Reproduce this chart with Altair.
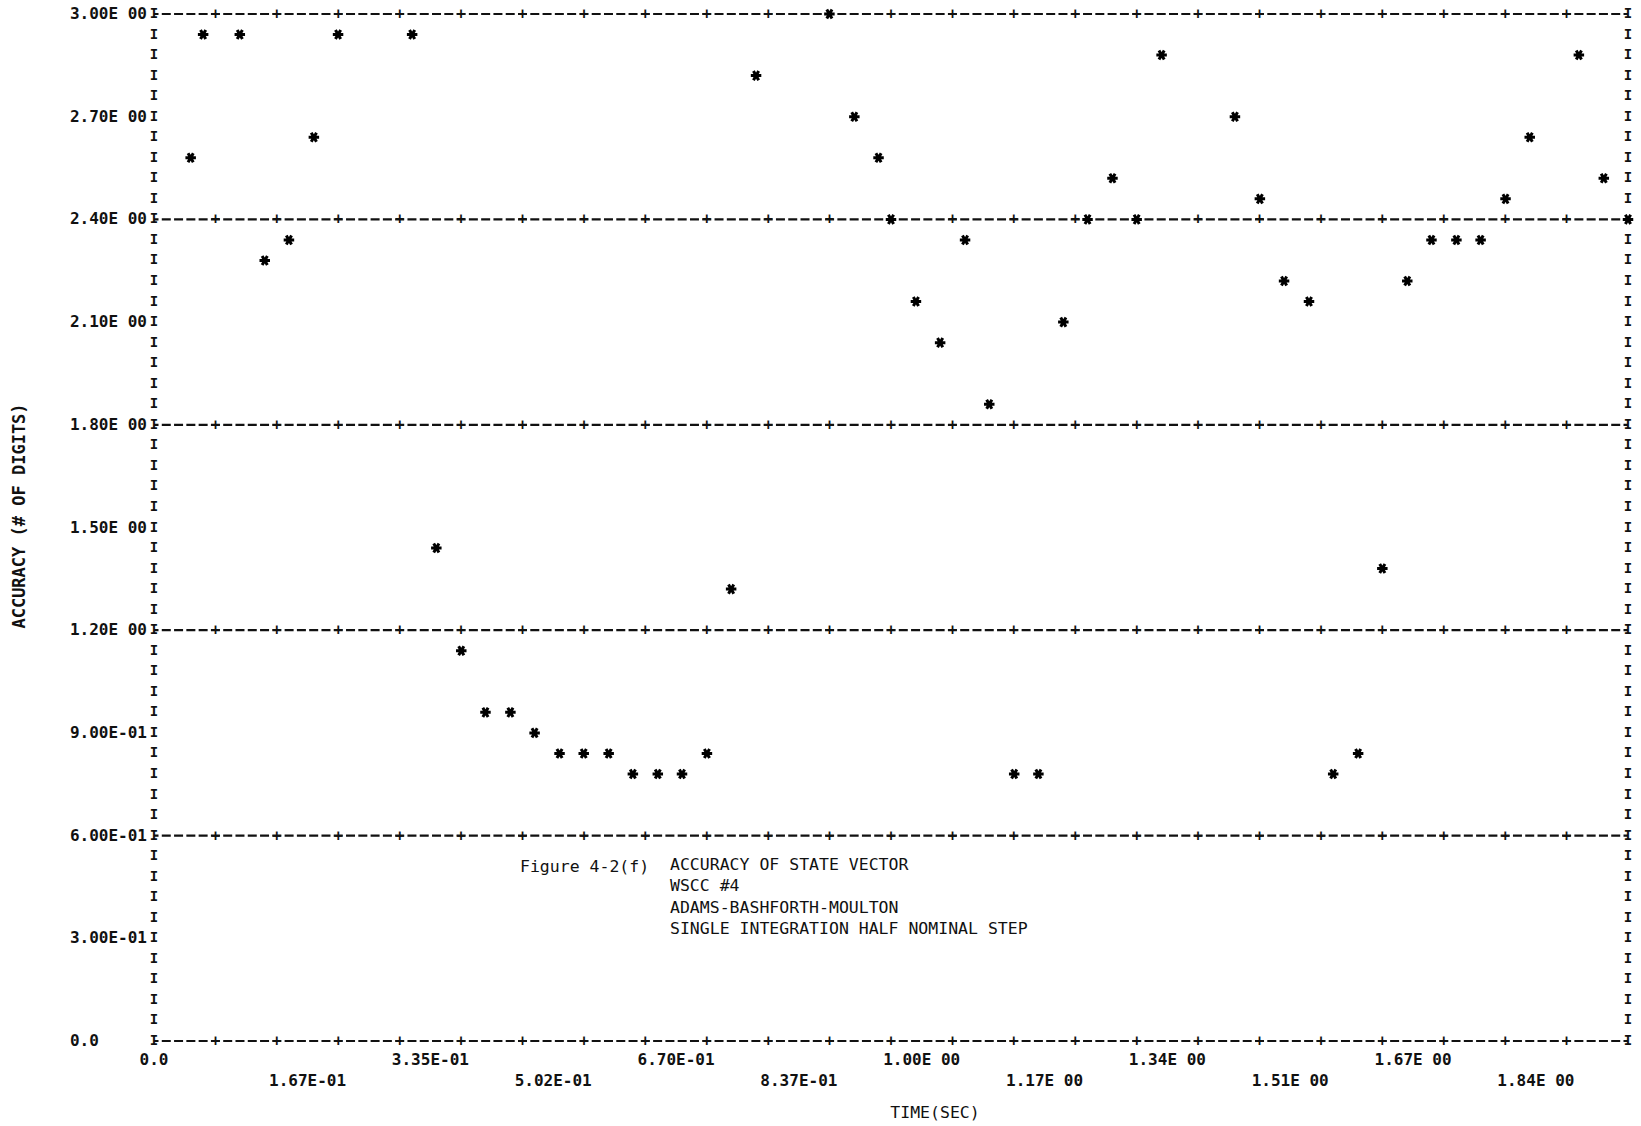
import altair as alt
import pandas as pd

# ---------------- data ----------------
times = [0.050, 0.067, 0.117, 0.151, 0.184, 0.218, 0.251, 0.352, 0.385, 0.419,
         0.452, 0.486, 0.519, 0.553, 0.586, 0.620, 0.653, 0.687, 0.720, 0.754,
         0.787, 0.821, 0.921, 0.955, 0.988, 1.005, 1.039, 1.072, 1.106, 1.139,
         1.173, 1.206, 1.240, 1.273, 1.307, 1.340, 1.374, 1.474, 1.508, 1.541,
         1.575, 1.608, 1.642, 1.675, 1.709, 1.742, 1.776, 1.809, 1.843, 1.876,
         1.943, 1.977, 2.010]
accuracy = [2.58, 2.94, 2.94, 2.28, 2.34, 2.64, 2.94, 2.94, 1.44, 1.14,
            0.96, 0.96, 0.90, 0.84, 0.84, 0.84, 0.78, 0.78, 0.78, 0.84,
            1.32, 2.82, 3.00, 2.70, 2.58, 2.40, 2.16, 2.04, 2.34, 1.86,
            0.78, 0.78, 2.10, 2.40, 2.52, 2.40, 2.88, 2.70, 2.46, 2.22,
            2.16, 0.78, 0.84, 1.38, 2.22, 2.34, 2.34, 2.34, 2.46, 2.64,
            2.88, 2.52, 2.40]

grid_levels = [0.0, 0.6, 1.2, 1.8, 2.4, 3.0]
ytick_values = [3.0, 2.7, 2.4, 2.1, 1.8, 1.5, 1.2, 0.9, 0.6, 0.3, 0.0]
ytick_labels = ["3.00E 00", "2.70E 00", "2.40E 00", "2.10E 00", "1.80E 00",
                "1.50E 00", "1.20E 00", "9.00E-01", "6.00E-01", "3.00E-01", "0.0"]
xtick_values = [0.0, 0.1675, 0.335, 0.5025, 0.67, 0.8375, 1.005, 1.1725,
                1.34, 1.5075, 1.675, 1.8425]
xtick_labels = ["0.0", "1.67E-01", "3.35E-01", "5.02E-01", "6.70E-01", "8.37E-01",
                "1.00E 00", "1.17E 00", "1.34E 00", "1.51E 00", "1.67E 00", "1.84E 00"]
caption_head = "Figure 4-2(f)"
caption_lines = ["ACCURACY OF STATE VECTOR", "WSCC #4", "ADAMS-BASHFORTH-MOULTON",
                 "SINGLE INTEGRATION HALF NOMINAL STEP"]
x_title = "TIME(SEC)"
y_title = "ACCURACY (# OF DIGITS)"

# ---------------- printer grid geometry ----------------
X_MAX = 2.01
N_COLS = 120
N_ROWS = 50
COL = X_MAX / N_COLS
ROW = 3.0 / N_ROWS
W, H = 1474, 1027
COLPX = W / N_COLS
MONO = "DejaVu Sans Mono"
INK = "#111111"
LBL_SIZE = 16
LBL_CHAR = 0.602 * LBL_SIZE

occupied = {(round(t / COL), round(a / ROW)) for t, a in zip(times, accuracy)}

xs = alt.Scale(domain=[0, X_MAX], nice=False, zero=False)
ys = alt.Scale(domain=[0, 3.0], nice=False, zero=False)

pts = pd.DataFrame({"t": times, "acc": accuracy})
grid_df = pd.DataFrame({"x0": [0.0] * len(grid_levels),
                        "x1": [X_MAX] * len(grid_levels),
                        "y": grid_levels})
plus_rows = []
for g in grid_levels:
    for c in range(5, N_COLS, 5):
        if (c, round(g / ROW)) not in occupied:
            plus_rows.append({"x": c * COL, "y": g})
plus_df = pd.DataFrame(plus_rows)

bar_rows = []
for k in range(N_ROWS + 1):
    bar_rows.append({"x": 0.0, "y": k * ROW})
    if (N_COLS, k) not in occupied:
        bar_rows.append({"x": X_MAX, "y": k * ROW})
bar_df = pd.DataFrame(bar_rows)

ytick_df = pd.DataFrame({"y": ytick_values, "label": ytick_labels, "x": 0.0})
xtick_df = pd.DataFrame({"x": xtick_values, "label": xtick_labels,
                         "ypx": [1046 if i % 2 == 0 else 1067 for i in range(len(xtick_values))]})

rules = alt.Chart(grid_df).mark_rule(
    strokeDash=[9, COLPX - 9], strokeDashOffset=4.5, strokeWidth=2.2, color=INK
).encode(
    x=alt.X("x0:Q", scale=xs, axis=None),
    x2="x1:Q",
    y=alt.Y("y:Q", scale=ys, axis=None),
)

plus = alt.Chart(plus_df).mark_text(
    text="+", font=MONO, fontSize=15, fontWeight="bold", color=INK,
    align="center", baseline="middle"
).encode(x=alt.X("x:Q", scale=xs, axis=None), y=alt.Y("y:Q", scale=ys, axis=None))

bars = alt.Chart(bar_df).mark_text(
    text="I", font=MONO, fontSize=14, fontWeight="bold", color=INK,
    align="center", baseline="middle"
).encode(x=alt.X("x:Q", scale=xs, axis=None), y=alt.Y("y:Q", scale=ys, axis=None))

ASTER = "M-1,0L1,0M-0.5,-0.866L0.5,0.866M-0.5,0.866L0.5,-0.866"
points = alt.Chart(pts).mark_point(
    shape=ASTER, filled=False, size=110, strokeWidth=3, color="#000000", opacity=1
).encode(x=alt.X("t:Q", scale=xs, axis=None), y=alt.Y("acc:Q", scale=ys, axis=None))

ylabels = alt.Chart(ytick_df).mark_text(
    font=MONO, fontSize=LBL_SIZE, fontWeight="bold", color=INK,
    align="left", baseline="middle", dx=-(7 + 8 * LBL_CHAR)
).encode(x=alt.X("x:Q", scale=xs, axis=None), y=alt.Y("y:Q", scale=ys, axis=None),
         text="label:N")

xlab_first = alt.Chart(xtick_df.iloc[:1]).mark_text(
    font=MONO, fontSize=LBL_SIZE, fontWeight="bold", color=INK,
    align="center", baseline="middle"
).encode(x=alt.X("x:Q", scale=xs, axis=None), y=alt.Y("ypx:Q", scale=None),
         text="label:N")
xlab_rest = alt.Chart(xtick_df.iloc[1:]).mark_text(
    font=MONO, fontSize=LBL_SIZE, fontWeight="bold", color=INK,
    align="center", baseline="middle", dx=2.5 * COLPX
).encode(x=alt.X("x:Q", scale=xs, axis=None), y=alt.Y("ypx:Q", scale=None),
         text="label:N")

cap_head = alt.Chart(pd.DataFrame({"a": [0]})).mark_text(
    text=caption_head, font=MONO, fontSize=16.5, color=INK, align="left", baseline="middle"
).encode(x=alt.value(366), y=alt.value(852.5))
cap_body = alt.Chart(pd.DataFrame({"a": [0]})).mark_text(
    text=caption_lines, font=MONO, fontSize=16.5, color=INK, align="left",
    baseline="top", lineHeight=21.3
).encode(x=alt.value(516), y=alt.value(843))

xt = alt.Chart(pd.DataFrame({"a": [0]})).mark_text(
    text=x_title, font=MONO, fontSize=16.5, color=INK, align="center", baseline="middle"
).encode(x=alt.value(781), y=alt.value(1099))
yt = alt.Chart(pd.DataFrame({"a": [0]})).mark_text(
    text=y_title, font=MONO, fontSize=17, fontWeight="bold", color=INK,
    align="center", baseline="middle", angle=270
).encode(x=alt.value(-134), y=alt.value(502))

chart = alt.layer(
    rules, plus, bars, points, ylabels, xlab_first, xlab_rest, cap_head, cap_body, xt, yt
).properties(
    width=W, height=H,
    autosize=alt.AutoSizeParams(type="none"),
    padding={"left": 154, "top": 14, "right": 13, "bottom": 85},
    background="white",
).configure_view(strokeWidth=0)

chart.save("out.html", embed_options={"renderer": "svg", "actions": False})
